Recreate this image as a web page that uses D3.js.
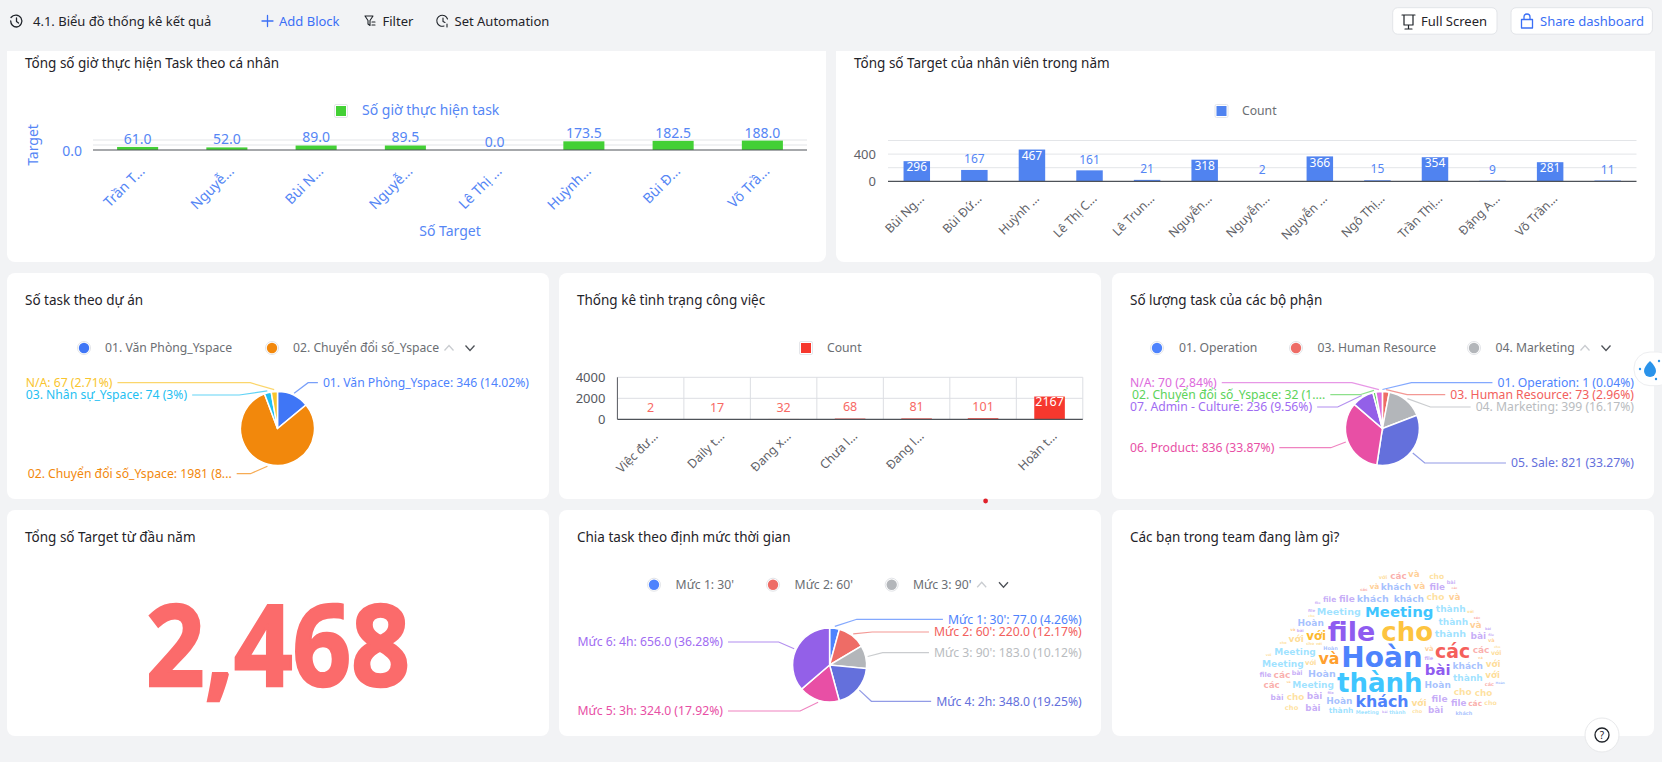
<!DOCTYPE html>
<html><head><meta charset="utf-8">
<script src="https://cdn.jsdelivr.net/npm/d3@7"></script>
<style>html,body{margin:0;padding:0;background:#f2f3f5;overflow:hidden}svg{display:block}text{font-family:"Noto Sans",sans-serif}</style>
</head><body><svg id="c" width="1662" height="762"></svg>
<script>
// ---------- DATA ----------
const hoursNames = ["Trần T...","Nguyễ...","Bùi N...","Nguyễ...","Lê Thị ...","Huỳnh...","Bùi Đ...","Võ Trầ..."];
const hoursValues = [61,52,89,89.5,0,173.5,182.5,188];
const targetNames = ["Bùi Ng...","Bùi Đứ...","Huỳnh ...","Lê Thị C...","Lê Trun...","Nguyễn...","Nguyễn...","Nguyễn ...","Ngô Thị...","Trần Thị...","Đặng A...","Võ Trần...",""];
const targetValues = [296,167,467,161,21,318,2,366,15,354,9,281,11];
const statusNames = ["Việc đư...","Daily t...","Đang x...","Chưa l...","Đang l...","","Hoàn t..."];
const statusValues = [2,17,32,68,81,101,2167];
const projectLabels = ["01. Văn Phòng_Yspace: 346 (14.02%)","02. Chuyển đổi số_Yspace: 1981 (8...","03. Nhân sự_Yspace: 74 (3%)","N/A: 67 (2.71%)"];
const projectValues = [346,1981,74,67];
const deptLabels = ["01. Operation: 1 (0.04%)","03. Human Resource: 73 (2.96%)","04. Marketing: 399 (16.17%)","05. Sale: 821 (33.27%)","06. Product: 836 (33.87%)","07. Admin - Culture: 236 (9.56%)","02. Chuyển đổi số_Yspace: 32 (1....","N/A: 70 (2.84%)"];
const deptValues = [1,73,399,821,836,236,32,70];
const levelLabels = ["Mức 1: 30': 77.0 (4.26%)","Mức 2: 60': 220.0 (12.17%)","Mức 3: 90': 183.0 (10.12%)","Mức 4: 2h: 348.0 (19.25%)","Mức 5: 3h: 324.0 (17.92%)","Mức 6: 4h: 656.0 (36.28%)"];
const levelValues = [77,220,183,348,324,656];
const totalTarget = 2468;
const cloudWords = ["Hoàn","file","thành","cho","các","và","khách","Meeting","bài","với",
"Meeting","thành","Hoàn","khách","Meeting","thành","Hoàn","khách","Meeting","Hoàn","thành","khách","Meeting","Hoàn",
"thành","khách","với","file","bài","cho","các","và","với","file","bài","cho","các","và","với","file","bài","cho","các","và","với","file","bài","cho","các","và",
"thành","Hoàn","khách","Meeting","thành","Hoàn","khách","file","cho","bài","và","các","với","file","cho","bài","và","các","với","file","cho","bài",
"Hoàn","thành","Meeting","khách","file","cho","các","và","bài","với","Hoàn","thành","Meeting","khách","file","cho","các","và","bài","với",
"Hoàn","thành","file","cho","Meeting","khách","các","và","bài","với","Hoàn","thành","file","cho","Meeting","khách","các","và","bài","với","Hoàn","thành","file","cho"];
const cloudWeights = [100,96,92,92,64,52,52,48,48,36,
27,27,27,27,25,25,25,25,25,25,25,25,25,25,
25,25,25,25,25,25,25,25,25,25,25,25,25,25,24,24,24,24,24,24,24,24,24,24,24,24,
22,22,22,22,19,19,19,19,19,19,19,19,16,16,16,16,16,16,14,14,14,14,
9,9,9,9,9,9,9,9,9,9,5,5,5,5,5,5,5,5,5,5,
3,3,3,3,3,3,3,3,3,3,2,2,2,2,2,2,2,2,2,2,2,2,2,2];
const cloudBearings = [null,316,184,39,84,268,180,17,106,292];
const cloudColors = {"Hoàn":"#4e83fd","thành":"#3fc6ff","file":"#8f5cf0","cho":"#fdc43f","các":"#f55f5b","và":"#ff9f2e","khách":"#4e83fd","Meeting":"#3fc6ff","bài":"#8f5cf0","với":"#fdb92e"};

// ---------- STYLE ----------
const BLUE="#5586f5", GREY="#5f6268", INK="#1f2329";
const svg=d3.select("#c");
const TITLE=13.5;

function txt(g,x,y,s,size,fill,anchor,extra){
  const t=g.append("text").attr("x",x).attr("y",y).attr("dy","0.35em").attr("font-size",size).attr("fill",fill).attr("text-anchor",anchor||"start").text(s);
  if(extra) extra(t); return t;
}
function panel(x0,y0,x1,y1){
  svg.append("rect").attr("x",x0).attr("y",y0).attr("width",x1-x0).attr("height",y1-y0).attr("rx",8).attr("fill","#fff");
}
function squareLegend(cx,cy,color,label,lx,lcolor,lsize){
  svg.append("rect").attr("x",cx-6.5).attr("y",cy-6.5).attr("width",13).attr("height",13).attr("rx",1.5).attr("fill","#fff").attr("stroke","#e4e6ea");
  svg.append("rect").attr("x",cx-5).attr("y",cy-5).attr("width",10).attr("height",10).attr("fill",color);
  txt(svg,lx,cy-.5,label,lsize||12.2,lcolor||"#6b6e73");
}
function pager(x1,x2,y){
  svg.append("path").attr("d",`M${x1-4.5},${y+2.5}L${x1},${y-2.5}L${x1+4.5},${y+2.5}`).attr("fill","none").attr("stroke","#c9ccd0").attr("stroke-width",1.3);
  svg.append("path").attr("d",`M${x2-4.5},${y-2.5}L${x2},${y+2.5}L${x2+4.5},${y-2.5}`).attr("fill","none").attr("stroke","#4e5258").attr("stroke-width",1.3);
}
function dotLegend(items,y){
  items.forEach(d=>{
    svg.append("circle").attr("cx",d.cx).attr("cy",y).attr("r",6.5).attr("fill","#fff").attr("stroke","#e2e4e8");
    svg.append("circle").attr("cx",d.cx).attr("cy",y).attr("r",5.2).attr("fill",d.color);
    txt(svg,d.tx,y-.3,d.label,12.2,"#6b6e73");
  });
}

function barChart(o){
  const x=d3.scaleBand().domain(d3.range(o.names.length)).range([o.x0,o.x1]).paddingInner(.54).paddingOuter(.27);
  const y=d3.scaleLinear().domain(o.domain).range([o.base,o.top]);
  const g=svg.append("g");
  const grid=g.append("g");
  grid.selectAll("line.h").data(o.grid).join("line").attr("x1",o.x0).attr("x2",o.x1).attr("y1",d=>y(d)).attr("y2",d=>y(d)).attr("stroke",o.gridColor||"#e3e5e8").attr("stroke-width",1);
  if(o.vgrid){
    const b=(o.x1-o.x0)/o.names.length;
    grid.selectAll("line.v").data(d3.range(1,o.names.length+1)).join("line").attr("x1",d=>o.x0+d*b).attr("x2",d=>o.x0+d*b).attr("y1",o.top).attr("y2",o.base).attr("stroke",o.gridColor||"#e3e5e8");
    g.append("line").attr("x1",o.x0).attr("x2",o.x0).attr("y1",o.top).attr("y2",o.base).attr("stroke","#55585e").attr("stroke-width",1);
  }
  g.selectAll("rect.b").data(o.values).join("rect").attr("class","b")
    .attr("x",(d,i)=>x(i)).attr("width",x.bandwidth()).attr("y",d=>y(d)).attr("height",d=>y(0)-y(d)).attr("fill",o.color);
  g.append("line").attr("x1",o.x0).attr("x2",o.x1).attr("y1",o.base).attr("y2",o.base).attr("stroke","#4e5258").attr("stroke-width",1.2);
  const ya=g.append("g").attr("transform",`translate(${o.x0-o.tickGap},0)`).call(d3.axisLeft(y).tickValues(o.ticks).tickSize(0).tickPadding(0).tickFormat(o.tickFormat||d3.format("d")));
  ya.select(".domain").remove();
  ya.selectAll("text").attr("font-size",o.tickSize||13).attr("fill",o.tickColor||GREY).attr("font-family",'"Noto Sans",sans-serif').attr("dy",o.tickDy||"0.35em");
  g.selectAll("text.v").data(o.values).join("text").attr("class","v").attr("text-anchor","middle").attr("dy","0.35em")
    .attr("font-size",o.labelSize).attr("x",(d,i)=>x(i)+x.bandwidth()/2)
    .attr("y",d=>d>=o.inside? y(d)+o.insideOff : y(d)-o.aboveOff)
    .attr("fill",d=>d>=o.inside?"#fff":o.labelColor)
    .text(o.fmt||(d=>d));
  g.selectAll("text.n").data(o.names).join("text").attr("class","n").attr("text-anchor","end")
    .attr("font-size",o.nameSize).attr("fill",o.nameColor)
    .attr("transform",(d,i)=>`translate(${x(i)+x.bandwidth()/2+o.nameDx},${o.base+o.nameDy}) rotate(-45)`)
    .text(d=>d);
}

function pie(o){
  const arcs=d3.pie().sort(null).startAngle(0).endAngle(2*Math.PI)(o.values);
  const arc=d3.arc().innerRadius(0).outerRadius(o.r);
  const g=svg.append("g").attr("transform",`translate(${o.cx},${o.cy})`);
  g.selectAll("path").data(arcs).join("path").attr("d",arc).attr("fill",(d,i)=>o.colors[i]).attr("stroke","#fff").attr("stroke-width",1.5);
  arcs.forEach((a,i)=>{
    const m=(a.startAngle+a.endAngle)/2, sx=o.cx+(o.r+2)*Math.sin(m), sy=o.cy-(o.r+2)*Math.cos(m);
    const right=o.sides[i]==="r", ly=o.labelY[i], ex=sx+(right?1:-1)*o.run[i];
    const trunc=o.labels[i].endsWith("...");
    const t=txt(svg,right?o.right:o.left+(trunc?2:0),ly,o.labels[i],o.size,o.labelColors?o.labelColors[i]:o.colors[i],right?"end":"start");
    const w=t.node().getComputedTextLength();
    const endX=right?o.right-w-5:o.left+(trunc?2:0)+w+5;
    svg.append("path").attr("d",`M${sx},${sy}L${ex},${ly}L${endX},${ly}`).attr("fill","none").attr("stroke",o.colors[i]).attr("stroke-width",1.2).attr("stroke-opacity",.7);
  });
}

// ---------- PANELS ----------
panel(7,30,826,262); panel(836,30,1655,262);
panel(7,273,549,499); panel(559,273,1101,499); panel(1112,273,1654,499);
panel(7,510,549,736); panel(559,510,1101,736); panel(1112,510,1654,736);
svg.append("rect").attr("width",1662).attr("height",51).attr("fill","#f2f3f5");

[["Tổng số giờ thực hiện Task theo cá nhân",25,63],["Tổng số Target của nhân viên trong năm",854,63],
 ["Số task theo dự án",25,300],["Thống kê tình trạng công việc",577,300],["Số lượng task của các bộ phận",1130,300],
 ["Tổng số Target từ đầu năm",25,537],["Chia task theo định mức thời gian",577,537],["Các bạn trong team đang làm gì?",1130,537]]
.forEach(d=>txt(svg,d[1],d[2],d[0],TITLE,INK));

// chart 1
squareLegend(341,111,"#43d035","Số giờ thực hiện task",362,BLUE,14);
barChart({names:hoursNames,values:hoursValues,x0:93,x1:807,base:150,top:140,domain:[0,200],grid:[100,200],ticks:[0],tickFormat:d3.format(".1f"),tickGap:11,tickSize:14,tickColor:BLUE,tickDy:"0.42em",
  color:"#43d035",inside:1e9,aboveOff:8,labelSize:14,labelColor:BLUE,fmt:d3.format(".1f"),nameSize:14,nameColor:BLUE,nameDx:8,nameDy:22});
txt(svg,0,0,"Target",14,BLUE,"middle",t=>t.attr("transform","translate(33,145) rotate(-90)"));
txt(svg,450,231,"Số Target",14,BLUE,"middle");

// chart 2
squareLegend(1221.5,111,"#5083f0","Count",1242,"#6b6e73",12.2);
barChart({names:targetNames,values:targetValues,x0:888,x1:1636.5,base:181.3,top:140.5,domain:[0,600],grid:[200,400,600],ticks:[0,400],tickGap:12,
  color:"#5083f0",inside:250,insideOff:6,aboveOff:11,labelSize:12,labelColor:BLUE,nameSize:12.3,nameColor:GREY,nameDx:8,nameDy:18});

// chart 3
dotLegend([{cx:84,tx:105,label:"01. Văn Phòng_Yspace",color:"#3f76f6"},{cx:272,tx:293,label:"02. Chuyển đổi số_Yspace",color:"#f2880c"}],348);
pager(449,470,348);
pie({values:projectValues,labels:projectLabels,colors:["#3f76f6","#f2880c","#1fc0f2","#f9c52e"],labelColors:["#4e83fd","#f2880c","#1fc0f2","#f9c52e"],
  cx:277.5,cy:428.5,r:37,sides:["r","l","l","l"],labelY:[382.7,473.7,395,382.7],run:[14,17,28,24],left:25.7,right:529,size:12.2});

// chart 4
squareLegend(806,348,"#f6382e","Count",827,"#6b6e73",12.2);
barChart({names:statusNames,values:statusValues,x0:617.4,x1:1082.8,base:419.3,top:377.3,domain:[0,4000],grid:[2000,4000],gridColor:"#dcdee3",vgrid:true,ticks:[0,2000,4000],tickGap:12,tickColor:"#55585e",
  color:"#f6382e",inside:1000,insideOff:5.5,aboveOff:11.5,labelSize:12.5,labelColor:"#f76964",nameSize:12.3,nameColor:GREY,nameDx:8,nameDy:17.5});
svg.append("circle").attr("cx",985.6).attr("cy",501).attr("r",2.4).attr("fill","#e0202a");

// chart 5
const deptColors=["#4e83fd","#ee6c66","#b3b6ba","#6470dc","#e84fa5","#9360e8","#5cd35a","#dd6bdc"];
dotLegend([{cx:1157,tx:1179,label:"01. Operation",color:deptColors[0]},{cx:1296,tx:1317.5,label:"03. Human Resource",color:deptColors[1]},{cx:1474,tx:1495.5,label:"04. Marketing",color:deptColors[2]}],348);
pager(1585,1606,348);
pie({values:deptValues,labels:deptLabels,colors:deptColors,labelColors:["#4e83fd","#f2605d","#b9bcc0","#6470dc","#e84fa5","#9f6cf2","#5cd35a","#dd6bdc"],
  cx:1382.4,cy:428.5,r:37,sides:["r","r","r","r","l","l","l","l"],labelY:[382.7,394.7,407,463,447.7,407,394.7,382.7],run:[29,21,23,12,15,24,14,27],left:1130,right:1634,size:12.2});

// big number
txt(svg,0,0,d3.format(",")(totalTarget),114,"#fb6b6b","start",t=>{
  t.attr("dy",0).attr("font-family",'"Liberation Sans Narrow","Roboto",sans-serif').attr("font-weight",700).attr("stroke","#fb6b6b").attr("stroke-width",2.4);
  const k=264/t.node().getComputedTextLength();
  t.attr("transform",`translate(146,686) scale(${k},1)`);
});

// chart 7
const levelColors=["#4e83fd","#ee6c66","#b3b6ba","#6470dc","#e84fa5","#9360e8"];
dotLegend([{cx:654,tx:675.6,label:"Mức 1: 30'",color:levelColors[0]},{cx:773,tx:794.6,label:"Mức 2: 60'",color:levelColors[1]},{cx:891.7,tx:913,label:"Mức 3: 90'",color:levelColors[2]}],584.7);
pager(981.7,1003.5,584.7);
pie({values:levelValues,labels:levelLabels,colors:levelColors,cx:829.6,cy:665,r:37,sides:["r","r","r","r","l","l"],labelY:[619.3,632,652.7,701.3,711,642],run:[22,19,15,12,18,15.5],left:577.4,right:1081.7,size:12.2,
  labelColors:["#4e83fd","#f2605d","#b9bcc0","#6470dc","#e84fa5","#9f6cf2"]});

// word cloud: spiral layout inside a cloud-shaped mask
(function(){
  const FONT='"DejaVu Sans"';
  const mask=[[1256,678],[1262,655],[1280,640],[1296,618],[1320,595],[1355,590],[1380,572],[1400,568],[1440,568],[1455,575],[1465,600],[1492,625],[1507,655],[1510,680],[1500,705],[1480,716],[1290,716],[1262,700]];
  const size=d3.scaleLinear().domain([1,100]).range([3,28]);
  const ox=1382, oy=657;
  const ctx=document.createElement("canvas").getContext("2d");
  const placed=[];
  const g=svg.append("g").attr("font-weight",700).attr("text-anchor","middle");
  const hit=(b)=>placed.some(p=>b.x0<p.x1&&b.x1>p.x0&&b.y0<p.y1&&b.y1>p.y0);
  const inMask=(b)=>[[b.x0,b.y0],[b.x1,b.y0],[b.x0,b.y1],[b.x1,b.y1]].every(c=>d3.polygonContains(mask,c));
  cloudWords.forEach((w,i)=>{
    const s=size(cloudWeights[i]);
    ctx.font=`700 ${s}px ${FONT}`;
    const tw=ctx.measureText(w).width, hw=tw/2+.6, hh=s>=11?s*.46:s*.6;
    const box=(x,y)=>({x0:x-hw,x1:x+hw,y0:y-hh,y1:y+hh});
    let px=null,py=null;
    const hint=cloudBearings[i];
    if(i===0){px=ox;py=oy;}
    else if(hint!=null){
      const a=hint*Math.PI/180;
      for(let r=0;r<140;r+=1){const x=ox+r*Math.sin(a),y=oy-r*Math.cos(a)*.8; if(!hit(box(x,y))){px=x;py=y;break;}}
    } else {
      for(let t=i*1.7,r=6;r<170;t+=0.13,r+=0.035){
        const x=ox+r*Math.cos(t)*1.35,y=oy-10+r*Math.sin(t)*.8,b=box(x,y);
        if(inMask(b)&&!hit(b)){px=x;py=y;break;}
      }
    }
    if(px==null) return;
    placed.push(box(px,py));
    g.append("text").attr("x",px).attr("y",py).attr("dy","0.35em").attr("style",`font-family:${FONT}`).attr("font-size",s).attr("fill",cloudColors[w]).attr("fill-opacity",s>=11?1:.5).text(w);
  });
})();

// ---------- TOOLBAR ----------
const icon=(d,c,sw)=>svg.append("path").attr("d",d).attr("fill","none").attr("stroke",c).attr("stroke-width",sw||1.3).attr("stroke-linecap","round").attr("stroke-linejoin","round");
icon("M11,17.5A6,6 0 1 1 16.5,27A6,6 0 0 1 10.7,21M16.5,18V21.5L18.5,23",INK);
txt(svg,33,21,"4.1. Biểu đồ thống kê kết quả",13,INK);
icon("M262,21H273M267.5,15.5V26.5","#3b6ff5");
txt(svg,279,21,"Add Block",13,"#3b6ff5");
icon("M365,16H373L370,20.5V25.5L368,24V20.5Z M372,22H375M372,25H375",INK,1.1);
txt(svg,382.5,21,"Filter",13,INK);
icon("M447.5,19A5.5,5.5 0 1 0 444,26M443,18V21.5L445,22.5M447,24V27",INK,1.1);
txt(svg,454.5,21,"Set Automation",13,INK);
[[1392.7,1497],[1511,1652.4]].forEach(b=>svg.append("rect").attr("x",b[0]).attr("y",7.7).attr("width",b[1]-b[0]).attr("height",26.5).attr("rx",5).attr("fill","#fff").attr("stroke","#e2e4e8"));
icon("M1402,15H1415M1404,15V25H1413V15M1408.5,25V29M1405,29H1412",INK,1.2);
txt(svg,1421,21,"Full Screen",13,INK);
icon("M1521.5,19.5H1532.5V28H1521.5ZM1524,19.5V17A3,3 0 0 1 1530,17V19.5","#3b6ff5",1.3);
txt(svg,1540,21,"Share dashboard",13,"#3b6ff5");

// floating buttons
svg.append("rect").attr("x",1634).attr("y",352).attr("width",40).attr("height",33.7).attr("rx",16).attr("fill","#fff").attr("stroke","#edeef0");
svg.append("path").attr("d","M1650,361C1654,365 1656,368 1656,371A6,6 0 0 1 1644,371C1644,368 1646,365 1650,361Z").attr("fill","#2a93ea");
[[1659,361],[1640,369],[1656,379]].forEach(p=>svg.append("circle").attr("cx",p[0]).attr("cy",p[1]).attr("r",1.2).attr("fill","#2a93ea"));
svg.append("circle").attr("cx",1602).attr("cy",735).attr("r",17).attr("fill","#fff").attr("stroke","#e8e9eb");
svg.append("circle").attr("cx",1602).attr("cy",735).attr("r",7).attr("fill","none").attr("stroke",INK).attr("stroke-width",1.3);
txt(svg,1602,735,"?",10,INK,"middle");
</script></body></html>
